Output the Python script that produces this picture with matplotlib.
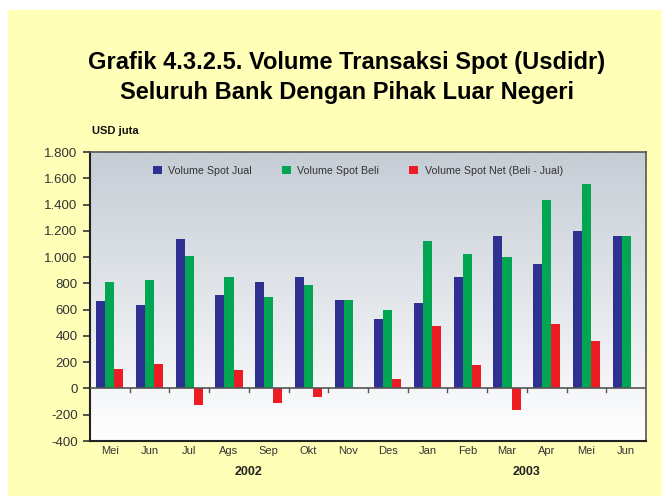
import numpy as np
import matplotlib
matplotlib.use('Agg')
import matplotlib.pyplot as plt
from matplotlib.patches import Rectangle
from matplotlib.ticker import FuncFormatter

plt.rcParams['font.family'] = ['Liberation Sans', 'DejaVu Sans']

# Data (USD juta)
bulan = ['Mei', 'Jun', 'Jul', 'Ags', 'Sep', 'Okt', 'Nov', 'Des',
         'Jan', 'Feb', 'Mar', 'Apr', 'Mei', 'Jun']
spot_jual = [662, 639, 1134, 708, 807, 852, 670, 525,
             647, 845, 1164, 951, 1195, 1164]
spot_beli = [807, 822, 1005, 852, 693, 784, 670, 594,
             1119, 1027, 997, 1438, 1553, 1164]
spot_net = [145, 183, -129, 144, -114, -68, 0, 69,
            472, 182, -167, 487, 358, 0]
tahun = ['2002', '2003']

bg = '#FFFFB8'
fig = plt.figure(figsize=(6.65, 4.96), dpi=100)
fig.patch.set_facecolor('white')
fig.patches.append(Rectangle((8 / 665, 0), 654 / 665, 486 / 496,
                             transform=fig.transFigure, facecolor=bg,
                             edgecolor='none', zorder=-10))

ax = fig.add_axes([90 / 665, 1 - 441 / 496, 556 / 665, 289 / 496])
ax.set_facecolor('white')

x = np.arange(len(bulan))
w = 0.227
ax.bar(x - w, spot_jual, w, color='#2E3192', label='Volume Spot Jual', zorder=3)
ax.bar(x, spot_beli, w, color='#00A651', label='Volume Spot Beli', zorder=3)
ax.bar(x + w, spot_net, w, color='#ED1C24', label='Volume Spot Net (Beli - Jual)', zorder=3)

ax.set_xlim(-0.5, len(bulan) - 0.5)
ax.set_ylim(-400, 1800)

# background gradient
grad = np.linspace(0, 1, 256).reshape(-1, 1)
cmap = matplotlib.colors.LinearSegmentedColormap.from_list('g', ['#FFFFFF', '#C5CDD5'])
ax.imshow(grad, extent=[-0.5, len(bulan) - 0.5, -400, 1800], origin='lower',
          aspect='auto', cmap=cmap, zorder=0)

# zero line with category ticks
ax.axhline(0, color='#555555', lw=1.2, zorder=4)
for b in np.arange(0.5, len(bulan) - 0.5):
    ax.plot([b, b], [0, -30], color='#555555', lw=1, zorder=4)

ax.set_yticks(np.arange(-400, 1801, 200))
ax.yaxis.set_major_formatter(FuncFormatter(lambda v, p: f'{int(v):,}'.replace(',', '.')))
ax.tick_params(axis='y', labelsize=9.5, colors='#333333', length=5, width=1.2, pad=4)
ax.set_xticks([])
for s in ['left', 'bottom']:
    ax.spines[s].set_color('#222222')
    ax.spines[s].set_linewidth(1.5)
for s in ['top', 'right']:
    ax.spines[s].set_color('#555555')
    ax.spines[s].set_linewidth(1.2)

for i, b in enumerate(bulan):
    ax.text(i, -440, b, ha='center', va='top', fontsize=8, color='#333333')
ax.text(3.5, -590, tahun[0], ha='center', va='top', fontsize=9, fontweight='bold', color='#222222')
ax.text(10.5, -590, tahun[1], ha='center', va='top', fontsize=9, fontweight='bold', color='#222222')

ax.legend(loc='upper left', bbox_to_anchor=(52 / 556, 0.99), ncol=3, frameon=False,
          fontsize=7.7, handlelength=0.85, handleheight=0.85, columnspacing=2.8,
          handletextpad=0.6, labelcolor='#333333', borderaxespad=0.6)

fig.text(92 / 665, 1 - 131 / 496, 'USD juta', fontsize=8, fontweight='bold',
         va='center', ha='left', color='#111111')
fig.text(347 / 665, 1 - 63 / 496, 'Grafik 4.3.2.5. Volume Transaksi Spot (Usdidr)',
         fontsize=17, fontweight='bold', ha='center', va='center')
fig.text(347 / 665, 1 - 93 / 496, 'Seluruh Bank Dengan Pihak Luar Negeri',
         fontsize=17, fontweight='bold', ha='center', va='center')

fig.savefig('out.png', dpi=100, facecolor=fig.get_facecolor())
